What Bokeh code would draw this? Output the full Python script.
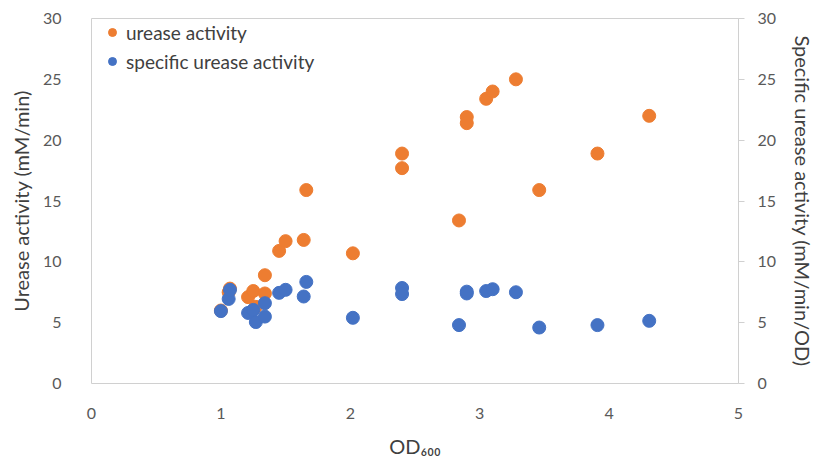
from bokeh.plotting import figure
from bokeh.models import LinearAxis, Range1d, FixedTicker, ColumnDataSource
from bokeh.embed import file_html
from bokeh.resources import INLINE

# Culture density (OD600) and measured activities
od600 = [1.00, 1.06, 1.07, 1.21, 1.25, 1.27, 1.34, 1.34, 1.45, 1.50, 1.64, 1.66,
         2.02, 2.40, 2.40, 2.84, 2.90, 2.90, 3.05, 3.10, 3.28, 3.46, 3.91, 4.31]
urease_activity = [6.0, 7.5, 7.8, 7.1, 7.6, 6.3, 8.9, 7.4, 10.9, 11.7, 11.8, 15.9,
                   10.7, 18.9, 17.7, 13.4, 21.9, 21.4, 23.4, 24.0, 25.0, 15.9, 18.9, 22.0]
specific_activity = [5.95, 6.95, 7.7, 5.8, 6.05, 5.05, 6.6, 5.5, 7.45, 7.7, 7.15, 8.35,
                     5.4, 7.85, 7.35, 4.8, 7.55, 7.4, 7.6, 7.75, 7.5, 4.6, 4.8, 5.15]

y_ticks = [0, 5, 10, 15, 20, 25, 30]
x_ticks = [0, 1, 2, 3, 4, 5]

ORANGE = "#ED7D31"
BLUE = "#4472C4"
GRID = "#d0d0d0"
TICK_TXT = "#595959"
TITLE_TXT = "#404040"
FONT = "Lato"

src = ColumnDataSource(dict(od=od600, ua=urease_activity, sa=specific_activity))

p = figure(width=819, height=461, output_backend="svg", toolbar_location=None,
           x_range=Range1d(0, 5), y_range=Range1d(0, 30),
           min_border_left=91, min_border_right=81, min_border_top=18, min_border_bottom=78)
p.extra_y_ranges = {"right": Range1d(0, 30)}

p.background_fill_color = "white"
p.border_fill_color = "white"
p.outline_line_color = GRID
p.outline_line_width = 1
p.xgrid.visible = False
p.ygrid.visible = False

# Axes styling
for ax in (p.xaxis[0], p.yaxis[0]):
    ax.axis_line_color = None
    ax.major_tick_line_color = None
    ax.minor_tick_line_color = None
    ax.major_label_text_font = FONT
    ax.major_label_text_font_size = "16px"
    ax.major_label_text_color = TICK_TXT
    ax.axis_label_text_font = FONT
    ax.axis_label_text_font_size = "20px"
    ax.axis_label_text_font_style = "normal"
    ax.axis_label_text_color = TITLE_TXT

p.xaxis[0].ticker = FixedTicker(ticks=x_ticks)
p.xaxis[0].major_label_standoff = 18
p.xaxis[0].axis_label = "OD\u2086\u2080\u2080"
p.xaxis[0].axis_label_standoff = 12

p.yaxis[0].ticker = FixedTicker(ticks=y_ticks)
p.yaxis[0].major_label_standoff = 24
p.yaxis[0].axis_label = "Urease activity (mM/min)"
p.yaxis[0].axis_label_standoff = 7

right = LinearAxis(y_range_name="right", ticker=FixedTicker(ticks=y_ticks))
right.axis_line_color = GRID
right.major_tick_line_color = GRID
right.major_tick_in = 0
right.major_tick_out = 6
right.minor_tick_line_color = None
right.major_label_standoff = 13
right.major_label_text_font = FONT
right.major_label_text_font_size = "16px"
right.major_label_text_color = TICK_TXT
right.axis_label = "Specific urease activity (mM/min/OD)"
right.axis_label_standoff = 12
right.axis_label_text_font = FONT
right.axis_label_text_font_size = "20px"
right.axis_label_text_font_style = "normal"
right.axis_label_text_color = TITLE_TXT
p.add_layout(right, "right")

p.scatter("od", "ua", source=src, size=13, color=ORANGE, line_color=ORANGE,
          legend_label="urease activity")
p.scatter("od", "sa", source=src, size=13, color=BLUE, line_color=BLUE,
          y_range_name="right", legend_label="specific urease activity")

lg = p.legend[0]
lg.location = (11, 309)
lg.margin = 0
lg.padding = 3
lg.spacing = 3
lg.glyph_height = 26
lg.glyph_width = 20
lg.label_height = 26
lg.label_standoff = 4
lg.label_text_font = FONT
lg.label_text_font_size = "19px"
lg.label_text_color = TITLE_TXT
lg.border_line_color = None
lg.background_fill_alpha = 0

open("out.html", "w").write(file_html(p, INLINE))
